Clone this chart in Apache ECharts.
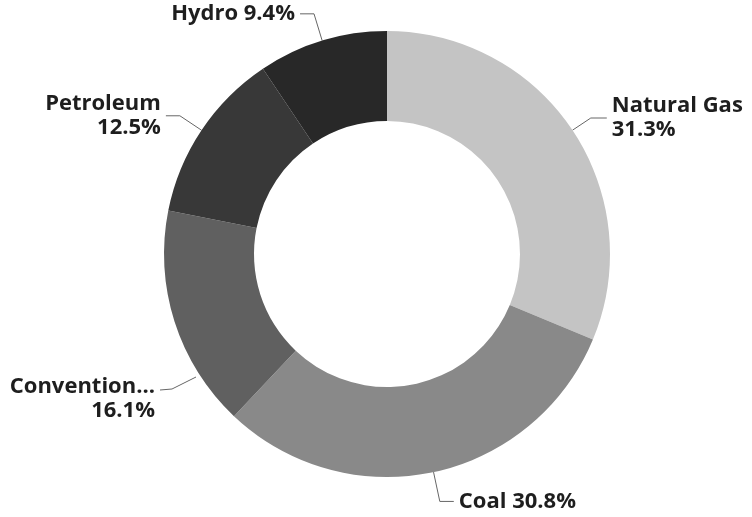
<!DOCTYPE html>
<html>
<head>
<meta charset="utf-8">
<script src="https://cdn.jsdelivr.net/npm/echarts@6/dist/echarts.min.js"></script>
<style>
  html, body { margin: 0; padding: 0; background: #fff; }
  #chart { width: 752px; height: 517px; }
</style>
</head>
<body>
<div id="chart"></div>
<script>
// share of generation, percent
let names = ['Natural Gas', 'Coal', 'Convention...', 'Petroleum', 'Hydro'];
let values = [31.3, 30.8, 16.1, 12.5, 9.4];
let colors = ['#c4c4c4', '#898989', '#606060', '#383838', '#282828'];
let breaks = ['\n', ' ', '\n', '\n', ' '];
let lineLen = [22, 30, 20, 26, 28];
let lineLen2 = [16, 14, 12, 14, 14];

let myChart = echarts.init(document.getElementById('chart'));

let pieData = [];
for (let i in names) {
    pieData.push({
        name: names[i],
        value: values[i],
        itemStyle: {color: colors[i]},
        label: {formatter: '{b}' + breaks[i] + '{c}%'},
        labelLine: {length: lineLen[i], length2: lineLen2[i]}
    });
}

let option = {
    animation: false,
    series: [{
        type: 'pie',
        center: [387, 254],
        radius: [133, 223],
        startAngle: 90,
        clockwise: true,
        avoidLabelOverlap: false,
        data: pieData,
        label: {
            show: true,
            position: 'outside',
            fontFamily: 'Open Sans',
            fontWeight: 'bold',
            fontSize: 22,
            lineHeight: 24,
            color: '#1e1e1e'
        },
        labelLine: {
            show: true,
            lineStyle: {color: '#666', width: 1}
        },
        labelLayout: function (params) {
            // the conventional label sits lower than its slice middle
            if (params.dataIndex === 2) {
                return {
                    x: 155, y: 399, align: 'right', verticalAlign: 'middle',
                    labelLinePoints: [[196, 377], [172, 389], [160, 390]]
                };
            }
        }
    }]
};
myChart.setOption(option);
</script>
</body>
</html>
